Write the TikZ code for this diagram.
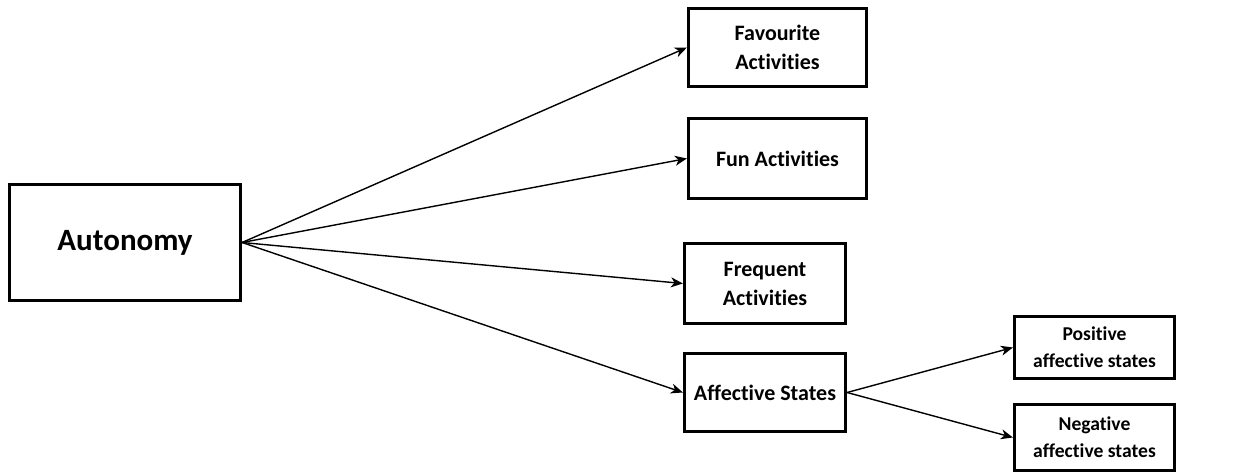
\documentclass[tikz,border=0pt]{standalone}
\usepackage{fontspec}
\setmainfont{Carlito}[Ligatures=NoCommon]
\usetikzlibrary{arrows, arrows.meta}
\tikzstyle{mainbox} = [rectangle, draw=black, line width=1.6pt, minimum width=115.5pt, minimum height=58pt, text centered, font=\bfseries\fontsize{15.5}{18}\selectfont]
\tikzstyle{itembox} = [rectangle, draw=black, line width=1.6pt, align=center, inner sep=0pt, font=\bfseries\fontsize{11}{14.5}\selectfont]
\tikzstyle{subbox} = [rectangle, draw=black, line width=1.6pt, align=center, inner sep=0pt, minimum width=80pt, font=\bfseries\fontsize{9.8}{13.5}\selectfont]
\tikzstyle{arrow} = [line width=0.7pt,-{Stealth[length=6pt,width=5pt,inset=1.8pt]}]

\begin{document}
\begin{tikzpicture}[x=0.5pt,y=-0.5pt]
	\useasboundingbox (0,0) rectangle (1244,475);
	\node (auto) [mainbox] at (125,242.5) {Autonomy};
	\node (fav) [itembox, minimum width=89pt, minimum height=39pt] at (777.5,47.5) {Favourite\\Activities};
	\node (fun) [itembox, minimum width=89pt, minimum height=40pt] at (777.5,158.5) {Fun Activities};
	\node (freq) [itembox, minimum width=80.5pt, minimum height=40pt] at (765,283.5) {Frequent\\Activities};
	\node (aff) [itembox, minimum width=80.5pt, minimum height=39pt] at (765,392.5) {Affective States};
	\node (pos) [subbox, minimum height=31pt] at (1094.5,347.5) {Positive\\affective states};
	\node (neg) [subbox, minimum height=33pt] at (1094.5,437.5) {Negative\\affective states};
	\draw [arrow] (auto.east) -- (fav.west);
	\draw [arrow] (auto.east) -- (fun.west);
	\draw [arrow] (auto.east) -- (freq.west);
	\draw [arrow] (auto.east) -- (aff.west);
	\draw [arrow] (aff.east) -- (pos.west);
	\draw [arrow] (aff.east) -- (neg.west);
\end{tikzpicture}
\end{document}
